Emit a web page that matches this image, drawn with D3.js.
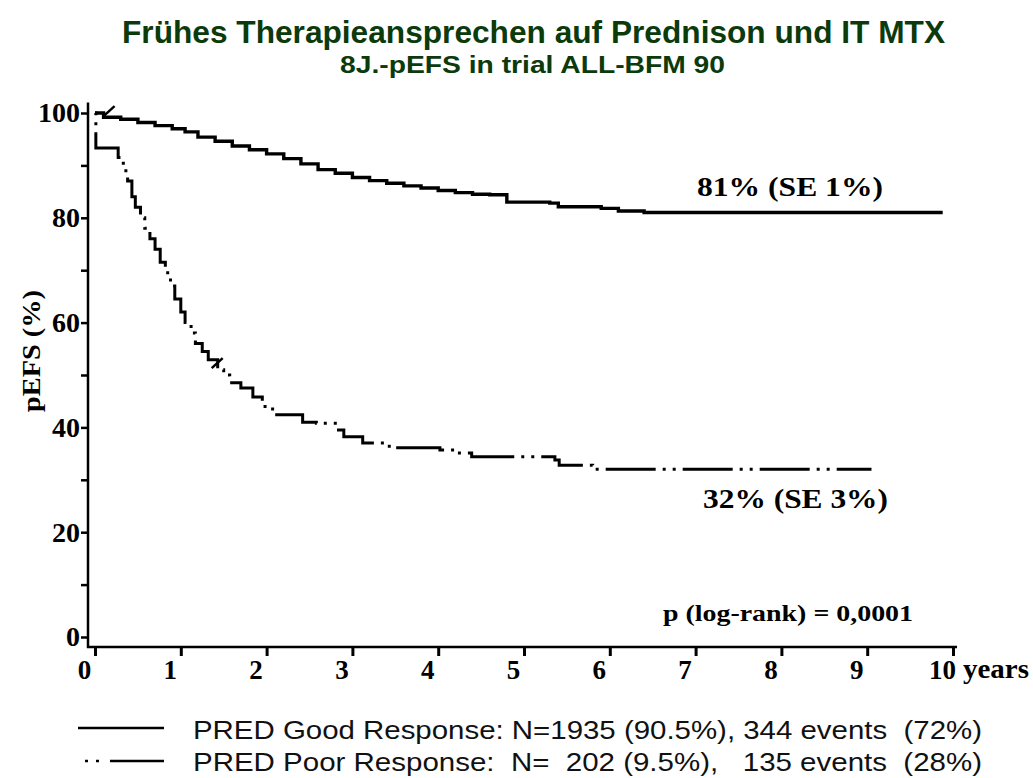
<!DOCTYPE html>
<html>
    <head>
        <meta charset="utf-8" />
        <script src="https://d3js.org/d3.v7.min.js"></script>
        <style>
            body {
                margin: 0;
                background-color: white;
            }
            svg text {
                white-space: pre;
            }
            .serif {
                font-family: 'Liberation Serif', 'Times New Roman', serif;
                font-weight: bold;
            }
            .sans {
                font-family: 'Liberation Sans Narrow', 'Liberation Sans', Arial, sans-serif;
            }
        </style>
    </head>
    <body>
        <svg></svg>
        <script>
            // Kaplan-Meier Stufen
            const goodTimes = [0, 0.1, 0.3, 0.5, 0.7, 0.9, 1.05, 1.2, 1.4, 1.6, 1.8, 2.0, 2.2, 2.4, 2.6, 2.8, 3.0, 3.2, 3.4, 3.6, 3.8, 4.0, 4.2, 4.4, 4.6, 4.8, 5.3, 5.4, 5.9, 6.1, 6.4, 9.88]
            const goodValues = [100, 99.2, 98.8, 98.2, 97.6, 97.0, 96.4, 95.4, 94.6, 93.7, 93.0, 92.2, 91.3, 90.3, 89.2, 88.5, 87.7, 87.1, 86.6, 86.1, 85.7, 85.2, 84.8, 84.5, 84.4, 83.0, 82.8, 82.1, 81.8, 81.3, 81.0, 81.0]

            const poorTimes = [0, 0.01, 0.27, 0.33, 0.38, 0.43, 0.47, 0.53, 0.58, 0.64, 0.7, 0.76, 0.82, 0.88, 0.93, 1.0, 1.05, 1.12, 1.17, 1.25, 1.32, 1.43, 1.5, 1.57, 1.7, 1.84, 1.95, 2.07, 2.42, 2.58, 2.82, 2.9, 3.12, 3.43, 4.02, 4.2, 4.39, 5.36, 5.41, 5.8, 9.05]
            const poorValues = [100, 93.3, 91.5, 89, 87, 84, 82, 80, 78, 76, 74, 71.5, 69.5, 67, 64.5, 62, 60, 58, 56, 54.5, 52.9, 51.0, 50, 48.5, 47.5, 45.8, 44, 42.4, 41.0, 40.8, 39.5, 38.2, 37.0, 36.1, 35.7, 35.1, 34.4, 33.8, 32.8, 32.0, 32.0]

            // zensierte Beobachtungen (Haekchen)
            const goodCensor = [[0.1, 99.4]]
            const poorCensor = [[1.36, 51.3]]

            const yTicks = [0, 10, 20, 30, 40, 50, 60, 70, 80, 90, 100]
            const xTicks = [0, 1, 2, 3, 4, 5, 6, 7, 8, 9, 10]

            const title = 'Frühes Therapieansprechen auf Prednison und IT MTX'
            const subtitle = '8J.-pEFS in trial ALL-BFM 90'
            const legendLabels = [
                'PRED Good Response: N=1935 (90.5%), 344 events  (72%)',
                'PRED Poor Response:  N=  202 (9.5%),   135 events  (28%)',
            ]
            const endLabels = ['81% (SE 1%)', '32% (SE 3%)']

            const width = 1033
            const height = 778
            const svg = d3
                .select('svg')
                .attr('width', width)
                .attr('height', height)
                .attr('viewBox', [0, 0, width, height])

            const x = d3.scaleLinear().domain([0, 10]).range([95, 953])
            const y = d3.scaleLinear().domain([0, 100]).range([637, 113])

            const green = '#0b3a0b'

            // Titel
            svg.append('text')
                .attr('class', 'sans')
                .attr('x', 122)
                .attr('y', 43)
                .attr('textLength', 823)
                .attr('lengthAdjust', 'spacingAndGlyphs')
                .style('font-size', '31px')
                .style('font-weight', 'bold')
                .style('fill', green)
                .text(title)
            svg.append('text')
                .attr('class', 'sans')
                .attr('x', 340)
                .attr('y', 73)
                .attr('textLength', 385)
                .attr('lengthAdjust', 'spacingAndGlyphs')
                .style('font-size', '24px')
                .style('font-weight', 'bold')
                .style('fill', green)
                .text(subtitle)

            // y-Achse
            const yAxis = svg
                .append('g')
                .attr('transform', 'translate(88,0)')
                .call(
                    d3
                        .axisLeft(y)
                        .tickValues(yTicks)
                        .tickSize(7)
                        .tickPadding(1)
                        .tickFormat((d) => (d % 20 === 0 ? d : ''))
                )
            yAxis.select('.domain').remove()
            yAxis.selectAll('.tick line').style('stroke', '#000').style('stroke-width', 2.5)
            yAxis.selectAll('text')
                .attr('class', 'serif')
                .style('font-size', '28px')
                .style('fill', '#000')
            svg.append('line')
                .attr('x1', 88)
                .attr('x2', 88)
                .attr('y1', y(102))
                .attr('y2', 648)
                .style('stroke', '#000')
                .style('stroke-width', 2.5)

            // x-Achse
            const xAxis = svg
                .append('g')
                .attr('transform', 'translate(0,647)')
                .call(d3.axisBottom(x).tickValues(xTicks).tickSize(9).tickPadding(4))
            xAxis.select('.domain').remove()
            xAxis.selectAll('.tick line').style('stroke', '#000').style('stroke-width', 3)
            xAxis.selectAll('text')
                .attr('class', 'serif')
                .attr('dx', -11)
                .style('font-size', '27px')
                .style('fill', '#000')
            svg.append('line')
                .attr('x1', 87)
                .attr('x2', 957)
                .attr('y1', 647)
                .attr('y2', 647)
                .style('stroke', '#000')
                .style('stroke-width', 2.5)
            svg.append('text')
                .attr('class', 'serif')
                .attr('x', 963)
                .attr('y', 678)
                .attr('textLength', 66)
                .attr('lengthAdjust', 'spacingAndGlyphs')
                .style('font-size', '27px')
                .text('years')

            svg.append('text')
                .attr('class', 'serif')
                .attr('transform', 'translate(40,351) rotate(-90)')
                .attr('text-anchor', 'middle')
                .attr('textLength', 122)
                .attr('lengthAdjust', 'spacingAndGlyphs')
                .style('font-size', '25px')
                .text('pEFS (%)')

            // Kurven
            const line = d3
                .line()
                .curve(d3.curveStepAfter)
                .x((d) => x(d[0]))
                .y((d) => y(d[1]))

            const goodData = goodTimes.map((t, i) => [t, goodValues[i]])
            const poorData = poorTimes.map((t, i) => [t, poorValues[i]])

            svg.append('path')
                .datum(goodData)
                .attr('d', line)
                .style('fill', 'none')
                .style('stroke', '#000')
                .style('stroke-width', 3.4)

            svg.append('path')
                .datum(poorData)
                .attr('d', line)
                .style('fill', 'none')
                .style('stroke', '#000')
                .style('stroke-width', 3)
                .style('stroke-dasharray', '3,7,3,7,50,7')

            const censor = goodCensor.concat(poorCensor)
            svg.selectAll('.censor')
                .data(censor)
                .enter()
                .append('line')
                .attr('class', 'censor')
                .attr('x1', (d) => x(d[0]))
                .attr('y1', (d) => y(d[1]))
                .attr('x2', (d) => x(d[0]) + 11)
                .attr('y2', (d) => y(d[1]) - 10)
                .style('stroke', '#000')
                .style('stroke-width', 2.5)

            // Beschriftungen
            svg.append('text')
                .attr('class', 'serif')
                .attr('x', 697)
                .attr('y', 196)
                .attr('textLength', 186)
                .attr('lengthAdjust', 'spacingAndGlyphs')
                .style('font-size', '28px')
                .text(endLabels[0])
            svg.append('text')
                .attr('class', 'serif')
                .attr('x', 703)
                .attr('y', 508)
                .attr('textLength', 185)
                .attr('lengthAdjust', 'spacingAndGlyphs')
                .style('font-size', '28px')
                .text(endLabels[1])
            svg.append('text')
                .attr('class', 'serif')
                .attr('x', 663)
                .attr('y', 621)
                .attr('textLength', 250)
                .attr('lengthAdjust', 'spacingAndGlyphs')
                .style('font-size', '24px')
                .text('p (log-rank) = 0,0001')

            // Legende
            const legend = svg.append('g')
            legend.append('line')
                .attr('x1', 78)
                .attr('x2', 164)
                .attr('y1', 728)
                .attr('y2', 728)
                .style('stroke', '#000')
                .style('stroke-width', 2.5)
            legend.append('line')
                .attr('x1', 85)
                .attr('x2', 164)
                .attr('y1', 761)
                .attr('y2', 761)
                .style('stroke', '#000')
                .style('stroke-width', 2.5)
                .style('stroke-dasharray', '3,8,3,11,60')
            legend.selectAll('text')
                .data(legendLabels)
                .enter()
                .append('text')
                .attr('class', 'sans')
                .attr('x', 193)
                .attr('y', (d, i) => 739 + i * 32)
                .attr('textLength', 789)
                .attr('lengthAdjust', 'spacingAndGlyphs')
                .style('font-size', '26px')
                .style('fill', '#111')
                .text((d) => d)
        </script>
    </body>
</html>
